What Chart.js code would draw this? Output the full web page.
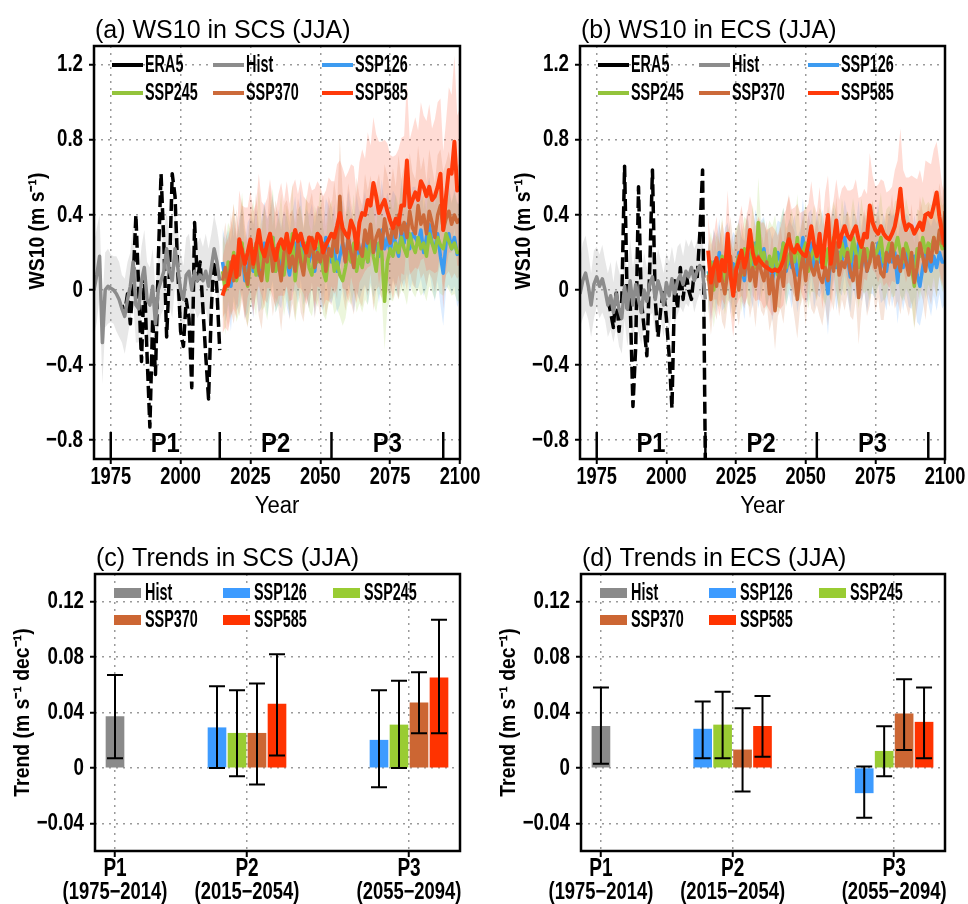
<!DOCTYPE html>
<html>
<head>
<meta charset="utf-8">
<script src="https://cdn.jsdelivr.net/npm/chart.js@4.4.0/dist/chart.umd.min.js"></script>
<style>
  body { margin: 0; background: #fff; width: 968px; height: 904px; position: relative; overflow: hidden; }
  .box { position: absolute; }
</style>
</head>
<body>
<div class="box" style="left:0;top:0;width:480px;height:520px"><canvas id="wsSCS"></canvas></div>
<div class="box" style="left:486px;top:0;width:482px;height:520px"><canvas id="wsECS"></canvas></div>
<div class="box" style="left:0;top:520px;width:480px;height:384px"><canvas id="trSCS"></canvas></div>
<div class="box" style="left:486px;top:520px;width:482px;height:384px"><canvas id="trECS"></canvas></div>
<script>
// ---- axes / labels ----
const histStart = 1969, era5Start = 1979, sspStart = 2015;
const yearTicks = [1975, 2000, 2025, 2050, 2075, 2100];
const wsTicks = [-0.8, -0.4, 0, 0.4, 0.8, 1.2];
const trendTicks = [-0.04, 0, 0.04, 0.08, 0.12];
const periodEdges = [1975, 2014, 2054, 2094];
const periodNames = ["P1", "P2", "P3"];
const periodRanges = ["(1975\u22122014)", "(2015\u22122054)", "(2055\u22122094)"];
const scenarios = ["SSP126", "SSP245", "SSP370", "SSP585"];

// ---- SCS WS10 anomalies (m/s) ----
const scsEra5 = [-0.08,-0.12,-0.02,-0.18,0.05,0.40,0.00,-0.38,0.08,-0.35, -0.73,-0.15,-0.45,0.15,0.62,0.25,-0.25,0.10,0.62,0.50, 0.10,-0.22,-0.30,-0.05,-0.15,-0.52,0.36,0.05,0.15,-0.10, -0.35,-0.58,-0.10,0.20,0.00,-0.32];
const scsHist = [0.00,0.08,0.18,-0.28,0.00,0.02,0.01,0.00,-0.02,-0.05, -0.10,-0.14,-0.05,0.02,0.15,-0.08,-0.10,0.05,0.12,-0.05, -0.08,0.02,-0.18,0.00,0.05,0.10,0.22,0.10,0.05,0.22, 0.12,0.00,-0.05,0.08,0.10,0.00,0.10,0.05,0.08,0.05, 0.10,0.02,0.12,0.22,0.15,0.05];
const scsHistSpread = [0.25,0.25,0.22,0.22,0.20,0.20,0.18,0.18,0.20,0.20, 0.18,0.20,0.20,0.18,0.20,0.20,0.18,0.18,0.20,0.20, 0.20,0.20,0.18,0.20,0.18,0.20,0.20,0.18,0.20,0.20, 0.20,0.20,0.18,0.20,0.20,0.18,0.20,0.20,0.20,0.18, 0.20,0.20,0.18,0.18,0.18,0.18];
const scsSsp126 = [0.15,0.05,0.12,0.02,0.18,0.08,0.15,0.22,0.05,0.12, 0.18,0.10,0.22,0.08,0.15,0.25,0.12,0.20,0.28,0.10, 0.18,0.12,0.22,0.15,0.08,0.20,0.25,0.15,0.30,0.12, 0.20,0.15,0.25,0.10,0.22,0.18,0.12,0.28,0.20,0.15, 0.22,0.10,0.18,0.25,0.15,0.28,0.20,0.12,0.25,0.18, 0.22,0.28,0.15,0.30,0.20,0.25,0.18,0.32,0.22,0.28, 0.20,0.30,0.25,0.18,0.32,0.25,0.35,0.22,0.30,0.28, 0.25,0.32,0.20,0.28,0.35,0.25,0.22,0.30,0.18,0.09, 0.25,0.30,0.22,0.28,0.19,0.20];
const scsSsp245 = [0.10,0.00,0.15,0.08,0.20,0.05,0.12,0.25,0.10,0.02, 0.15,0.22,0.08,0.30,0.12,0.18,0.05,0.20,0.28,0.10, 0.15,0.25,0.08,0.20,0.12,0.30,0.05,0.18,0.22,0.10, 0.25,0.12,0.08,0.20,0.15,0.28,0.10,0.05,0.18,0.22, 0.10,0.15,0.08,0.05,0.12,0.20,0.15,0.25,0.10,0.18, 0.12,0.22,0.15,0.28,0.18,0.10,0.25,0.20,-0.06,0.15, 0.22,0.18,0.25,0.20,0.28,0.22,0.18,0.30,0.24,0.20, 0.28,0.22,0.25,0.18,0.30,0.25,0.20,0.28,0.24,0.22, 0.30,0.26,0.22,0.25,0.20,0.20];
const scsSsp370 = [0.05,0.12,0.02,0.15,0.05,0.18,0.08,0.22,0.10,0.03, 0.20,0.12,0.25,0.10,0.05,0.20,0.15,0.28,0.10,0.22, 0.15,0.05,0.20,0.25,0.12,0.18,0.10,0.25,0.15,0.08, 0.22,0.18,0.28,0.12,0.20,0.15,0.25,0.10,0.22,0.18, 0.30,0.20,0.50,0.25,0.15,0.28,0.20,0.12,0.30,0.22, 0.18,0.32,0.25,0.35,0.20,0.28,0.32,0.22,0.38,0.30, 0.25,0.35,0.28,0.40,0.30,0.36,0.28,0.42,0.33,0.30, 0.45,0.35,0.40,0.30,0.42,0.36,0.28,0.40,0.45,0.32, 0.38,0.42,0.35,0.40,0.36,0.38];
const scsSsp585 = [-0.03,0.02,0.03,0.10,0.18,0.07,0.27,0.20,0.14,0.20, 0.27,0.14,0.22,0.32,0.22,0.18,0.25,0.30,0.22,0.16, 0.24,0.27,0.22,0.30,0.20,0.25,0.32,0.26,0.30,0.24, 0.20,0.28,0.27,0.22,0.30,0.28,0.20,0.24,0.27,0.30, 0.28,0.34,0.41,0.33,0.30,0.28,0.37,0.33,0.22,0.36, 0.41,0.40,0.48,0.45,0.57,0.50,0.41,0.45,0.48,0.42, 0.37,0.33,0.38,0.35,0.45,0.45,0.69,0.44,0.48,0.52, 0.48,0.58,0.55,0.50,0.55,0.48,0.50,0.55,0.62,0.32, 0.50,0.64,0.62,0.79,0.53,0.55];
const scsSpread126 = [0.18,0.22,0.20,0.24,0.21,0.19,0.23,0.22,0.20,0.24, 0.21,0.25,0.22,0.20,0.24,0.22,0.26,0.21,0.23,0.22, 0.25,0.22,0.20,0.24,0.23,0.21,0.25,0.22,0.24,0.20, 0.23,0.25,0.21,0.24,0.22,0.26,0.23,0.21,0.25,0.22, 0.24,0.22,0.26,0.23,0.21,0.25,0.22,0.24,0.26,0.23, 0.22,0.25,0.23,0.26,0.24,0.22,0.25,0.27,0.23,0.24, 0.26,0.23,0.25,0.22,0.27,0.24,0.26,0.23,0.25,0.27, 0.24,0.26,0.23,0.27,0.25,0.24,0.28,0.25,0.26,0.28, 0.25,0.27,0.24,0.26,0.28,0.25];
const scsSpread245 = [0.20,0.24,0.21,0.23,0.26,0.22,0.24,0.27,0.22,0.21, 0.24,0.26,0.22,0.25,0.23,0.27,0.21,0.24,0.26,0.22, 0.23,0.26,0.22,0.25,0.24,0.27,0.22,0.25,0.23,0.24, 0.26,0.23,0.22,0.25,0.24,0.27,0.23,0.21,0.25,0.26, 0.23,0.25,0.22,0.24,0.27,0.25,0.23,0.26,0.22,0.25, 0.24,0.27,0.23,0.26,0.25,0.22,0.27,0.24,0.26,0.25, 0.27,0.24,0.26,0.25,0.28,0.24,0.26,0.27,0.25,0.24, 0.27,0.25,0.26,0.24,0.28,0.26,0.25,0.27,0.26,0.25, 0.28,0.26,0.25,0.27,0.26,0.26];
const scsSpread370 = [0.20,0.24,0.22,0.26,0.23,0.25,0.22,0.27,0.24,0.23, 0.25,0.23,0.27,0.24,0.26,0.25,0.22,0.28,0.24,0.26, 0.24,0.27,0.25,0.23,0.28,0.25,0.26,0.24,0.27,0.25, 0.26,0.28,0.24,0.27,0.25,0.29,0.26,0.24,0.28,0.26, 0.28,0.25,0.30,0.27,0.26,0.29,0.27,0.25,0.30,0.28, 0.27,0.30,0.28,0.26,0.31,0.28,0.30,0.27,0.29,0.31, 0.28,0.30,0.27,0.32,0.29,0.30,0.28,0.31,0.30,0.29, 0.32,0.29,0.31,0.28,0.33,0.30,0.29,0.32,0.30,0.31, 0.30,0.32,0.29,0.31,0.30,0.30];
const scsSpread585 = [0.20,0.22,0.25,0.24,0.28,0.22,0.26,0.25,0.30,0.24, 0.26,0.28,0.24,0.30,0.25,0.27,0.24,0.29,0.26,0.25, 0.27,0.30,0.25,0.28,0.26,0.30,0.27,0.25,0.29,0.26, 0.28,0.30,0.26,0.32,0.28,0.27,0.30,0.29,0.33,0.28, 0.30,0.33,0.28,0.32,0.30,0.35,0.30,0.33,0.29,0.32, 0.34,0.30,0.36,0.32,0.35,0.33,0.38,0.34,0.32,0.36, 0.35,0.38,0.34,0.40,0.36,0.37,0.42,0.36,0.38,0.40, 0.37,0.42,0.38,0.40,0.44,0.38,0.41,0.45,0.40,0.42, 0.40,0.44,0.42,0.46,0.40,0.42];

// ---- ECS WS10 anomalies (m/s) ----
const ecsEra5 = [-0.05,-0.12,-0.20,0.00,-0.22,-0.05,0.66,-0.10,-0.05,-0.62, -0.30,0.55,-0.05,-0.20,-0.35,0.10,0.64,-0.05,-0.25,-0.10, 0.00,-0.15,-0.35,-0.63,0.05,-0.10,0.12,-0.05,0.10,0.00, -0.05,0.10,0.05,0.30,0.64,-0.95];
const ecsHist = [-0.02,0.05,0.09,0.02,-0.08,0.03,0.07,0.02,0.06,0.00, -0.08,-0.03,-0.12,-0.02,-0.10,-0.15,0.02,-0.10,0.05,-0.08, 0.03,-0.05,-0.12,0.00,-0.06,0.03,0.07,-0.05,0.05,0.00, -0.08,0.04,-0.03,0.06,-0.02,0.05,0.08,0.03,0.10,0.07, 0.12,0.05,0.10,0.13,0.10,-0.05];
const ecsHistSpread = [0.18,0.20,0.20,0.18,0.17,0.18,0.16,0.17,0.18,0.16, 0.17,0.18,0.16,0.18,0.20,0.19,0.18,0.20,0.22,0.20, 0.20,0.18,0.17,0.20,0.18,0.17,0.19,0.18,0.17,0.16, 0.17,0.16,0.18,0.17,0.16,0.18,0.17,0.15,0.17,0.16, 0.15,0.17,0.16,0.15,0.16,0.17];
const ecsSsp126 = [0.10,0.02,0.15,0.08,0.20,0.05,0.12,0.18,0.06,0.14, 0.08,0.20,0.12,0.05,0.22,0.15,0.10,0.25,0.12,0.18, 0.22,0.10,0.15,0.05,0.12,0.20,0.15,0.25,0.10,0.18, 0.12,0.22,0.08,0.15,0.28,0.12,0.18,0.25,0.10,0.20, 0.15,0.22,0.10,-0.02,0.18,0.25,0.12,0.20,0.15,0.28, 0.18,0.07,0.22,0.15,0.25,0.12,0.20,0.10,0.18,0.22, 0.15,0.25,0.12,0.18,0.10,0.22,0.15,0.20,0.04,0.18, 0.12,0.20,0.15,0.10,0.18,0.08,0.02,0.12,0.20,0.15, 0.10,0.18,0.12,0.20,0.15,0.15];
const ecsSsp245 = [0.05,0.15,0.00,0.12,0.08,0.18,0.05,0.15,0.10,0.02, 0.12,0.18,0.08,0.22,0.15,0.10,0.25,0.12,0.36,0.15, 0.20,0.10,0.18,0.12,0.22,0.08,0.15,0.25,0.12,0.18, 0.22,0.15,0.28,0.12,0.20,0.25,0.10,0.18,0.22,0.15, 0.25,0.18,0.12,0.22,0.15,0.28,0.20,0.10,0.25,0.18, 0.22,0.15,0.28,0.20,0.12,0.25,0.18,0.22,0.15,0.25, 0.18,0.22,0.28,0.15,0.20,0.25,0.18,0.22,0.28,0.20, 0.15,0.25,0.20,0.12,0.02,0.22,0.18,0.28,0.20,0.25, 0.22,0.28,0.20,0.30,0.22,0.25];
const ecsSsp370 = [0.08,-0.05,0.12,0.02,0.15,0.05,-0.02,0.10,0.18,0.05, 0.12,0.00,0.15,0.08,0.20,0.05,0.12,0.02,0.18,0.10, 0.05,0.15,-0.02,0.08,-0.11,0.05,0.12,0.02,0.20,0.30, 0.15,0.08,-0.05,0.10,0.18,0.05,0.20,0.12,0.08,0.15, 0.07,0.04,0.12,0.05,0.18,0.10,0.25,0.08,0.15,0.12, 0.20,0.10,0.05,0.18,-0.04,0.12,0.22,0.10,0.15,0.25, 0.12,0.18,0.09,0.07,0.20,0.15,0.25,0.12,0.18,0.10, 0.22,0.15,0.08,0.20,0.04,0.12,0.25,0.18,0.10,0.22, 0.15,0.28,0.20,0.32,0.25,0.42];
const ecsSsp585 = [0.21,0.04,0.12,0.17,0.05,0.16,0.10,0.30,0.08,-0.03, 0.10,0.16,0.21,0.12,0.18,0.32,0.20,0.14,0.17,0.15, 0.13,0.12,0.11,0.10,0.11,0.10,0.12,0.16,0.23,0.27, 0.22,0.20,0.24,0.21,0.19,0.18,0.25,0.34,0.24,0.18, 0.30,0.12,0.28,0.40,0.14,0.25,0.37,0.23,0.30,0.34, 0.29,0.27,0.31,0.34,0.27,0.23,0.30,0.28,0.45,0.36, 0.32,0.30,0.34,0.30,0.28,0.27,0.30,0.34,0.42,0.54, 0.38,0.32,0.35,0.34,0.30,0.33,0.36,0.32,0.40,0.41, 0.39,0.45,0.52,0.39,0.30,0.23];
const ecsSpread126 = [0.16,0.19,0.17,0.20,0.18,0.16,0.21,0.18,0.19,0.17, 0.20,0.18,0.16,0.21,0.19,0.17,0.20,0.18,0.22,0.19, 0.17,0.20,0.18,0.22,0.19,0.17,0.21,0.19,0.18,0.20, 0.22,0.18,0.20,0.17,0.21,0.19,0.23,0.18,0.20,0.22, 0.19,0.21,0.18,0.22,0.20,0.19,0.23,0.21,0.18,0.20, 0.22,0.19,0.21,0.20,0.23,0.18,0.21,0.22,0.20,0.24, 0.20,0.22,0.19,0.23,0.21,0.20,0.24,0.21,0.22,0.20, 0.23,0.21,0.24,0.20,0.22,0.25,0.21,0.23,0.20,0.22, 0.24,0.21,0.23,0.22,0.25,0.22];
const ecsSpread245 = [0.18,0.16,0.20,0.19,0.17,0.21,0.18,0.20,0.17,0.19, 0.21,0.18,0.20,0.17,0.22,0.19,0.21,0.18,0.24,0.20, 0.18,0.21,0.19,0.22,0.18,0.20,0.23,0.19,0.21,0.18, 0.21,0.19,0.23,0.20,0.18,0.22,0.20,0.19,0.23,0.21, 0.19,0.22,0.20,0.23,0.21,0.19,0.22,0.20,0.24,0.21, 0.20,0.23,0.21,0.19,0.22,0.24,0.20,0.22,0.21,0.23, 0.22,0.20,0.24,0.21,0.23,0.20,0.22,0.25,0.21,0.23, 0.21,0.24,0.22,0.20,0.23,0.21,0.24,0.22,0.25,0.22, 0.23,0.21,0.24,0.22,0.23,0.22];
const ecsSpread370 = [0.17,0.19,0.21,0.18,0.20,0.22,0.19,0.18,0.21,0.20, 0.22,0.19,0.21,0.18,0.23,0.20,0.19,0.22,0.20,0.21, 0.19,0.22,0.20,0.23,0.21,0.19,0.22,0.20,0.24,0.21, 0.20,0.23,0.21,0.19,0.22,0.24,0.20,0.22,0.21,0.23, 0.21,0.23,0.20,0.24,0.22,0.21,0.25,0.22,0.20,0.23, 0.22,0.24,0.21,0.23,0.25,0.22,0.21,0.24,0.23,0.22, 0.24,0.22,0.25,0.23,0.21,0.24,0.26,0.22,0.24,0.23, 0.25,0.23,0.22,0.26,0.24,0.22,0.25,0.23,0.26,0.24, 0.23,0.26,0.24,0.25,0.23,0.24];
const ecsSpread585 = [0.18,0.20,0.17,0.22,0.19,0.21,0.18,0.23,0.20,0.22, 0.19,0.21,0.24,0.20,0.22,0.18,0.23,0.20,0.22,0.21, 0.23,0.20,0.22,0.24,0.21,0.19,0.22,0.24,0.20,0.23, 0.21,0.24,0.22,0.20,0.23,0.25,0.21,0.24,0.22,0.23, 0.25,0.22,0.24,0.21,0.26,0.23,0.22,0.25,0.24,0.22, 0.24,0.26,0.23,0.25,0.22,0.27,0.24,0.23,0.28,0.25, 0.23,0.26,0.25,0.28,0.24,0.26,0.25,0.30,0.27,0.32, 0.26,0.28,0.25,0.27,0.30,0.26,0.28,0.25,0.29,0.27, 0.28,0.30,0.27,0.29,0.26,0.28];

// ---- trends (m/s/decade): Hist P1, SSP126..585 P2, SSP126..585 P3 ----
const scsTrend   = [0.037, 0.029, 0.025, 0.025, 0.046, 0.020, 0.031, 0.047, 0.065];
const scsTrendLo = [0.007, 0.000, -0.006, -0.012, 0.009, -0.014, 0.000, 0.025, 0.025];
const scsTrendHi = [0.067, 0.059, 0.056, 0.061, 0.082, 0.056, 0.063, 0.069, 0.107];
const ecsTrend   = [0.030, 0.028, 0.031, 0.013, 0.030, -0.018, 0.012, 0.039, 0.033];
const ecsTrendLo = [0.003, 0.007, 0.007, -0.017, 0.008, -0.036, -0.006, 0.013, 0.007];
const ecsTrendHi = [0.058, 0.048, 0.055, 0.043, 0.052, 0.001, 0.030, 0.064, 0.058];

// ---- styling ----
const FONT = "'Liberation Sans', Arial, sans-serif";
const lineColors = { ERA5: "#000000", Hist: "#8c8c8c", SSP126: "#3d9bf0", SSP245: "#94c43c", SSP370: "#cc6a3a", SSP585: "#ff3a0a" };
const bandColors = { Hist: "rgba(170,170,170,0.28)", SSP126: "rgba(80,160,255,0.2)", SSP245: "rgba(160,210,80,0.2)", SSP370: "rgba(210,120,70,0.2)", SSP585: "rgba(255,110,80,0.24)" };
const barColors = { Hist: "#8a8a8a", SSP126: "#3d9bff", SSP245: "#99cc33", SSP370: "#cc6633", SSP585: "#ff3300" };
// bar layout on a linear x axis (1 unit = one bar slot)
const periodPos = [1, 7.6, 15.7];
const slotOffset = [-1.5, -0.5, 0.5, 1.5];

function pts(start, vals) { return vals.map((v, i) => ({ x: start + i, y: v })); }
function edge(start, vals, spread, sign) { return vals.map((v, i) => ({ x: start + i, y: v + sign * spread[i] })); }

function fmt(v, dec) {
    if (Math.abs(v) < 1e-9) return "0";
    return (v < 0 ? "\u2212" : "") + Math.abs(v).toFixed(dec);
}

// condensed text
function ctext(ctx, str, x, y, font, sx, align) {
    ctx.save();
    ctx.font = font + " " + FONT;
    ctx.translate(x, y);
    ctx.scale(sx, 1);
    ctx.textAlign = align;
    ctx.fillText(str, 0, 0);
    ctx.restore();
}

const gridOpts = { color: "#9a9a9a", lineWidth: 1.5, tickLength: 5, tickColor: "#000", tickWidth: 2, tickBorderDash: [] };
const borderOpts = { display: false, dash: [2, 5] };

const decor = {
    id: "decor",
    afterDraw(chart, args, o) {
        const { ctx, chartArea: a, scales: { x, y } } = chart;
        ctx.save();
        ctx.fillStyle = "#000";
        ctx.strokeStyle = "#000";

        // error bars
        if (o.kind === "bar") {
            ctx.lineWidth = 2;
            chart.data.datasets.forEach((ds, i) => {
                chart.getDatasetMeta(i).data.forEach((bar, j) => {
                    const lo = y.getPixelForValue(ds.errLo[j]);
                    const hi = y.getPixelForValue(ds.errHi[j]);
                    ctx.beginPath();
                    ctx.moveTo(bar.x, lo); ctx.lineTo(bar.x, hi);
                    ctx.moveTo(bar.x - 8, lo); ctx.lineTo(bar.x + 8, lo);
                    ctx.moveTo(bar.x - 8, hi); ctx.lineTo(bar.x + 8, hi);
                    ctx.stroke();
                });
            });
        }

        // period markers
        if (o.kind === "line") {
            ctx.lineWidth = 2.5;
            periodEdges.forEach(yr => {
                const px = x.getPixelForValue(yr);
                ctx.beginPath(); ctx.moveTo(px, a.bottom); ctx.lineTo(px, a.bottom - 27); ctx.stroke();
            });
            ctx.textBaseline = "middle";
            periodNames.forEach((n, i) => {
                const cx = x.getPixelForValue((periodEdges[i] + periodEdges[i + 1]) / 2);
                ctext(ctx, n, cx, a.bottom - 14, "bold 27px", 0.88, "center");
            });
        }

        // frame
        ctx.lineWidth = 2.5;
        ctx.strokeRect(a.left, a.top, a.right - a.left, a.bottom - a.top);

        // tick labels
        ctx.textBaseline = "middle";
        o.yTicks.forEach(v => ctext(ctx, fmt(v, o.dec), a.left - 11, y.getPixelForValue(v), "bold 24px", 0.78, "right"));
        if (o.kind === "line") {
            yearTicks.forEach(v => ctext(ctx, String(v), x.getPixelForValue(v), a.bottom + 18, "bold 24px", 0.76, "center"));
            ctx.textBaseline = "alphabetic";
            ctext(ctx, "Year", (a.left + a.right) / 2, a.bottom + 54, "23px", 0.96, "center");
        } else {
            periodPos.forEach((p, i) => {
                const px = x.getPixelForValue(p);
                ctext(ctx, periodNames[i], px, a.bottom + 18, "bold 25px", 0.76, "center");
                ctext(ctx, periodRanges[i], px, a.bottom + 42, "bold 23px", 0.8, "center");
            });
        }

        // panel title
        ctx.textBaseline = "alphabetic";
        ctext(ctx, o.title, a.left + 1, a.top - 8, "25px", 1, "left");

        // y title
        ctx.save();
        ctx.translate(o.yTitleX, o.yTitleY || (a.top + a.bottom) / 2);
        ctx.rotate(-Math.PI / 2);
        ctx.scale(0.88, 1);
        ctx.font = "bold 22px " + FONT;
        ctx.textAlign = "center";
        ctx.textBaseline = "middle";
        ctx.fillText(o.yTitle, 0, 0);
        ctx.restore();

        // legend
        ctx.textBaseline = "middle";
        o.legend.forEach((it, k) => {
            const lx = a.left + o.legendCols[k % 3];
            const ly = a.top + o.legendRows[Math.floor(k / 3)];
            if (o.kind === "line") {
                ctx.strokeStyle = it.color; ctx.lineWidth = 4;
                ctx.beginPath(); ctx.moveTo(lx, ly); ctx.lineTo(lx + 31, ly); ctx.stroke();
                ctext(ctx, it.label, lx + 33, ly, "bold 24px", 0.6, "left");
            } else {
                ctx.fillStyle = it.color;
                ctx.fillRect(lx, ly - 5, 27, 10);
                ctx.fillStyle = "#000";
                ctext(ctx, it.label, lx + 31, ly, "bold 24px", 0.6, "left");
            }
        });
        ctx.restore();
    }
};

function lineStyle(name, width, order, dash) {
    return { label: name, borderColor: lineColors[name], borderWidth: width, borderDash: dash || [], pointRadius: 0, tension: 0, fill: false, order: order, borderJoinStyle: "round" };
}

function wsChart(id, title, era5, hist, histSpread, ssp, spread) {
    const datasets = [];
    // bands: upper filled down to the following lower edge
    const bandOrder = { Hist: 10, SSP585: 11, SSP370: 12, SSP245: 13, SSP126: 14 };
    const addBand = (name, start, vals, spr) => {
        datasets.push({ data: edge(start, vals, spr, 1), borderWidth: 0, pointRadius: 0, backgroundColor: bandColors[name], fill: "+1", order: bandOrder[name] });
        datasets.push({ data: edge(start, vals, spr, -1), borderWidth: 0, pointRadius: 0, fill: false, order: bandOrder[name] });
    };
    addBand("Hist", histStart, hist, histSpread);
    scenarios.forEach((s, i) => addBand(s, sspStart, ssp[i], spread[i]));

    datasets.push(Object.assign(lineStyle("SSP585", 4, 0), { data: pts(sspStart, ssp[3]) }));
    datasets.push(Object.assign(lineStyle("Hist", 3.5, 1), { data: pts(histStart, hist) }));
    datasets.push(Object.assign(lineStyle("ERA5", 3.5, 2, [12, 5]), { data: pts(era5Start, era5) }));
    datasets.push(Object.assign(lineStyle("SSP370", 3.5, 3), { data: pts(sspStart, ssp[2]) }));
    datasets.push(Object.assign(lineStyle("SSP245", 3.5, 4), { data: pts(sspStart, ssp[1]) }));
    datasets.push(Object.assign(lineStyle("SSP126", 3.5, 5), { data: pts(sspStart, ssp[0]) }));

    const legend = ["ERA5", "Hist", "SSP126", "SSP245", "SSP370", "SSP585"].map(n => ({ label: n, color: lineColors[n] }));

    return new Chart(document.getElementById(id), {
        type: "line",
        data: { datasets },
        options: {
            responsive: true, maintainAspectRatio: false, animation: false,
            layout: { padding: { top: 46, right: id === "wsSCS" ? 20 : 23, left: 0, bottom: 0 } },
            plugins: {
                legend: { display: false }, tooltip: { enabled: false },
                decor: { kind: "line", title, yTitle: "WS10 (m s\u207B\u00B9)", yTitleX: 38, yTitleY: 231, yTicks: wsTicks, dec: 1, legend, legendCols: [18, 119, 228], legendRows: [19, 47] }
            },
            scales: {
                x: {
                    type: "linear", min: 1969, max: 2100,
                    afterBuildTicks: s => { s.ticks = yearTicks.map(v => ({ value: v })); },
                    afterFit: s => { s.height = 61; },
                    ticks: { display: false }, grid: gridOpts, border: borderOpts
                },
                y: {
                    min: -0.9, max: 1.3,
                    afterBuildTicks: s => { s.ticks = wsTicks.map(v => ({ value: v })); },
                    afterFit: s => { s.width = 94; },
                    ticks: { display: false }, grid: gridOpts, border: borderOpts
                }
            }
        },
        plugins: [decor]
    });
}

function trendChart(id, title, vals, lo, hi) {
    const names = ["Hist"].concat(scenarios);
    const datasets = names.map(n => ({ label: n, backgroundColor: barColors[n], data: [], errLo: [], errHi: [] }));
    // Hist bar at P1
    datasets[0].data.push({ x: periodPos[0], y: vals[0] });
    datasets[0].errLo.push(lo[0]); datasets[0].errHi.push(hi[0]);
    // scenario bars at P2 and P3
    [1, 2].forEach(p => {
        scenarios.forEach((s, k) => {
            const idx = 1 + (p - 1) * 4 + k;
            const ds = datasets[k + 1];
            ds.data.push({ x: periodPos[p] + slotOffset[k], y: vals[idx] });
            ds.errLo.push(lo[idx]); ds.errHi.push(hi[idx]);
        });
    });
    const legend = names.map(n => ({ label: n, color: barColors[n] }));

    return new Chart(document.getElementById(id), {
        type: "bar",
        data: { datasets },
        options: {
            responsive: true, maintainAspectRatio: false, animation: false,
            layout: { padding: { top: 54, right: id === "trSCS" ? 20 : 23, left: 0, bottom: 0 } },
            datasets: { bar: { grouped: false, barThickness: 18 } },
            plugins: {
                legend: { display: false }, tooltip: { enabled: false },
                decor: { kind: "bar", title, yTitle: "Trend (m s\u207B\u00B9 dec\u207B\u00B9)", yTitleX: 23, yTicks: trendTicks, dec: 2, legend, legendCols: [19, 128, 238], legendRows: [19, 46] }
            },
            scales: {
                x: {
                    type: "linear", min: 0, max: 18.25, offset: false,
                    afterBuildTicks: s => { s.ticks = periodPos.map(v => ({ value: v })); },
                    afterFit: s => { s.height = 53; },
                    ticks: { display: false }, grid: Object.assign({}, gridOpts, { offset: false, tickLength: 6 }), border: borderOpts
                },
                y: {
                    min: -0.06, max: 0.14,
                    afterBuildTicks: s => { s.ticks = trendTicks.map(v => ({ value: v })); },
                    afterFit: s => { s.width = 95; },
                    ticks: { display: false }, grid: gridOpts, border: borderOpts
                }
            }
        },
        plugins: [decor]
    });
}

wsChart("wsSCS", "(a) WS10 in SCS (JJA)", scsEra5, scsHist, scsHistSpread,
    [scsSsp126, scsSsp245, scsSsp370, scsSsp585], [scsSpread126, scsSpread245, scsSpread370, scsSpread585]);
wsChart("wsECS", "(b) WS10 in ECS (JJA)", ecsEra5, ecsHist, ecsHistSpread,
    [ecsSsp126, ecsSsp245, ecsSsp370, ecsSsp585], [ecsSpread126, ecsSpread245, ecsSpread370, ecsSpread585]);
trendChart("trSCS", "(c) Trends in SCS (JJA)", scsTrend, scsTrendLo, scsTrendHi);
trendChart("trECS", "(d) Trends in ECS (JJA)", ecsTrend, ecsTrendLo, ecsTrendHi);
</script>
</body>
</html>
